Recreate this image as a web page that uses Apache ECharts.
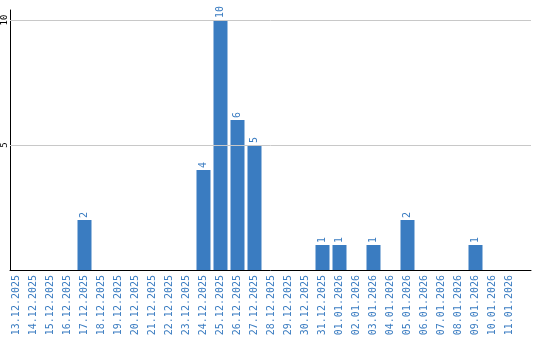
<!DOCTYPE html>
<html><head><meta charset="utf-8">
<script src="https://cdn.jsdelivr.net/npm/echarts@6/dist/echarts.min.js"></script>
<style>html,body{margin:0;padding:0;background:#fff}#c{width:540px;height:340px}</style>
</head><body><div id="c"></div>
<script>
const categories = ['13.12.2025','14.12.2025','15.12.2025','16.12.2025','17.12.2025','18.12.2025','19.12.2025','20.12.2025','21.12.2025','22.12.2025','23.12.2025','24.12.2025','25.12.2025','26.12.2025','27.12.2025','28.12.2025','29.12.2025','30.12.2025','31.12.2025','01.01.2026','02.01.2026','03.01.2026','04.01.2026','05.01.2026','06.01.2026','07.01.2026','08.01.2026','09.01.2026','10.01.2026','11.01.2026'];
const values = [0,0,0,0,2,0,0,0,0,0,0,4,10,6,5,0,0,0,1,1,0,1,0,2,0,0,0,1,0,0];
const yTicks = [5, 10];

const blue = '#3a7cc1';
const chart = echarts.init(document.getElementById('c'), null, {renderer: 'canvas'});
const points = categories.map((c, i) => [i, values[i]]);
chart.setOption({
  animation: false,
  grid: {left: 10, right: 9, top: 10, bottom: 70, containLabel: false, outerBoundsMode: 'none'},
  xAxis: {
    type: 'value', min: -0.382, max: 30.265,
    axisLine: {show: true, onZero: false, lineStyle: {color: '#000', width: 1}},
    axisTick: {show: false},
    splitLine: {show: false},
    axisLabel: {
      customValues: categories.map((c, i) => i),
      formatter: v => categories[v] || '',
      rotate: 90, margin: 5, color: blue,
      fontFamily: 'DejaVu Sans Mono', fontSize: 10
    }
  },
  yAxis: {
    type: 'value', min: 0, max: 10.4,
    axisLabel: {
      customValues: yTicks,
      rotate: 90, margin: 1, color: '#000',
      fontFamily: 'DejaVu Sans Mono', fontSize: 9, lineHeight: 9
    },
    axisTick: {show: false},
    axisLine: {show: true, onZero: false, lineStyle: {color: '#000', width: 1}},
    splitLine: {show: false}
  },
  series: [{
    type: 'bar',
    data: points.filter(p => p[1] > 0),
    barWidth: 14,
    itemStyle: {color: blue},
    label: {
      show: true, position: 'top', rotate: 90, distance: 2,
      align: 'left', verticalAlign: 'middle',
      color: blue, fontFamily: 'DejaVu Sans Mono', fontSize: 10,
      formatter: p => p.value[1]
    },
    markLine: {
      silent: true, symbol: 'none', label: {show: false},
      lineStyle: {color: '#c8c8c8', type: 'solid', width: 1},
      data: yTicks.map(t => ({yAxis: t}))
    },
    z: 3
  }]
});
</script></body></html>
